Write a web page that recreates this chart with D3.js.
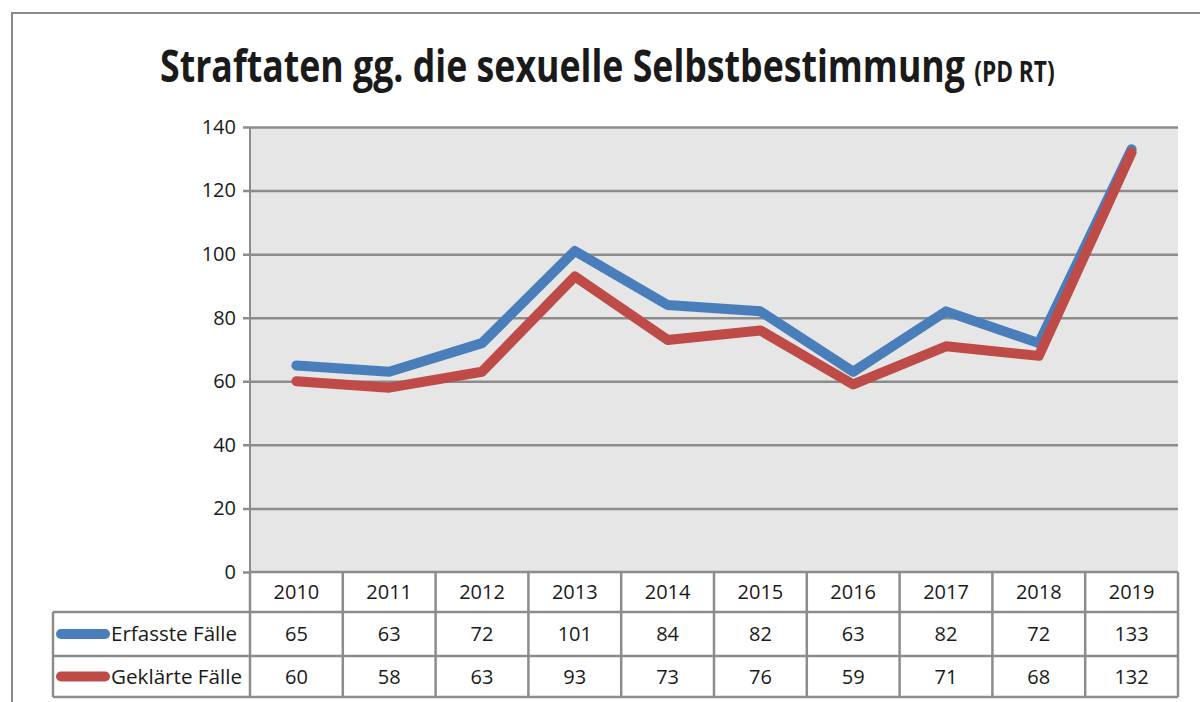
<!DOCTYPE html>
<html>
<head>
<meta charset="utf-8">
<script src="https://cdn.jsdelivr.net/npm/d3@7"></script>
<style>
  body { margin: 0; background: #fff; }
  svg text { font-family: "Open Sans", "Noto Sans", sans-serif; fill: #1a1a1a; }
</style>
</head>
<body>
<div class="chart"></div>
<script>
var years = ["2010", "2011", "2012", "2013", "2014", "2015", "2016", "2017", "2018", "2019"];
var erfasst = [65, 63, 72, 101, 84, 82, 63, 82, 72, 133];
var geklaert = [60, 58, 63, 93, 73, 76, 59, 71, 68, 132];
var seriesNames = ["Erfasste Fälle", "Geklärte Fälle"];
var seriesColors = ["#4a7ebb", "#be4b48"];
var yTicks = [0, 20, 40, 60, 80, 100, 120, 140];

var svgWidth = 1200;
var svgHeight = 702;

var plot = { left: 250, right: 1178, top: 127, bottom: 572 };
var rowH = [40, 44, 41];
var legendLeft = 53;
var gridColor = "#8c8c8c";

var svg = d3.select(".chart")
  .append("svg")
  .attr("width", svgWidth)
  .attr("height", svgHeight);

// outer chart frame (cropped on right/bottom)
svg.append("path")
  .attr("d", "M12,702 L12,13 L1200,13")
  .attr("fill", "none")
  .attr("stroke", "#8a8a8a")
  .attr("stroke-width", 2);

// title: one text, squeezed horizontally to the reference width
var title = svg.append("text")
  .attr("font-weight", "bold")
  .attr("font-size", 44);
title.append("tspan").text("Straftaten gg. die sexuelle Selbstbestimmung ");
title.append("tspan").attr("font-size", 28).text("(PD RT)");
var tw = title.node().getComputedTextLength();
title.attr("transform", `translate(160,82) scale(${895 / tw},1)`);

// scales
var x = d3.scaleBand()
  .domain(years)
  .range([plot.left, plot.right]);

var y = d3.scaleLinear()
  .domain([0, 140])
  .range([plot.bottom, plot.top]);

// plot background
svg.append("rect")
  .attr("x", plot.left)
  .attr("y", plot.top)
  .attr("width", plot.right - plot.left)
  .attr("height", plot.bottom - plot.top)
  .attr("fill", "#e6e6e6");

// gridlines + y axis
var leftAxis = d3.axisLeft(y)
  .tickValues(yTicks)
  .tickSize(-(plot.right - plot.left))
  .tickPadding(14)
  .tickFormat(d3.format("d"));

var yAxis = svg.append("g")
  .attr("transform", `translate(${plot.left},0)`)
  .call(leftAxis);

yAxis.select(".domain").remove();
yAxis.selectAll(".tick line")
  .attr("x1", -7)
  .attr("stroke", gridColor)
  .attr("stroke-width", 2.5);
yAxis.selectAll(".tick text")
  .attr("font-size", 20)
  .attr("fill", "#1a1a1a")
  .style("font-family", "\"Open Sans\", sans-serif");

// left plot border
svg.append("line")
  .attr("x1", plot.left).attr("x2", plot.left)
  .attr("y1", plot.top).attr("y2", plot.bottom)
  .attr("stroke", gridColor)
  .attr("stroke-width", 2);

// lines
var line = d3.line()
  .x((d, i) => x(years[i]) + x.bandwidth() / 2)
  .y(d => y(d));

[erfasst, geklaert].forEach(function(vals, k) {
  svg.append("path")
    .datum(vals)
    .attr("d", line)
    .attr("fill", "none")
    .attr("stroke", seriesColors[k])
    .attr("stroke-width", 10)
    .attr("stroke-linejoin", "round")
    .attr("stroke-linecap", "round");
});

// data table
var tableTop = plot.bottom;
var rowY = [tableTop, tableTop + rowH[0], tableTop + rowH[0] + rowH[1], tableTop + rowH[0] + rowH[1] + rowH[2]];

var table = svg.append("g");

table.append("rect")
  .attr("x", plot.left).attr("y", rowY[0])
  .attr("width", plot.right - plot.left).attr("height", rowY[3] - rowY[0])
  .attr("fill", "#fff");

// horizontal lines
table.append("line")
  .attr("x1", plot.left).attr("x2", plot.right)
  .attr("y1", rowY[0]).attr("y2", rowY[0])
  .attr("stroke", gridColor).attr("stroke-width", 2.5);
[rowY[1], rowY[2], rowY[3]].forEach(function(yy) {
  table.append("line")
    .attr("x1", legendLeft).attr("x2", plot.right)
    .attr("y1", yy).attr("y2", yy)
    .attr("stroke", gridColor).attr("stroke-width", 2.5);
});

// vertical lines
var bounds = years.map(d => x(d)).concat([plot.right]);
bounds.forEach(function(bx) {
  table.append("line")
    .attr("x1", bx).attr("x2", bx)
    .attr("y1", rowY[0]).attr("y2", rowY[3])
    .attr("stroke", gridColor).attr("stroke-width", 2.5);
});
table.append("line")
  .attr("x1", legendLeft).attr("x2", legendLeft)
  .attr("y1", rowY[1]).attr("y2", rowY[3])
  .attr("stroke", gridColor).attr("stroke-width", 2.5);

// year labels
table.selectAll(".year")
  .data(years)
  .enter()
  .append("text")
  .attr("class", "year")
  .attr("x", d => x(d) + x.bandwidth() / 2)
  .attr("y", (rowY[0] + rowY[1]) / 2)
  .attr("dy", "0.35em")
  .attr("text-anchor", "middle")
  .attr("font-size", 20)
  .text(d => d);

// value rows with legend keys
[erfasst, geklaert].forEach(function(vals, k) {
  var cy = (rowY[k + 1] + rowY[k + 2]) / 2;
  table.selectAll(".val" + k)
    .data(vals)
    .enter()
    .append("text")
    .attr("class", "val" + k)
    .attr("x", (d, i) => x(years[i]) + x.bandwidth() / 2)
    .attr("y", cy)
    .attr("dy", "0.35em")
    .attr("text-anchor", "middle")
    .attr("font-size", 20)
    .text(d => d);

  table.append("line")
    .attr("x1", 61).attr("x2", 105)
    .attr("y1", cy).attr("y2", cy)
    .attr("stroke", seriesColors[k])
    .attr("stroke-width", 10)
    .attr("stroke-linecap", "round");

  table.append("text")
    .attr("x", 111)
    .attr("y", cy)
    .attr("dy", "0.35em")
    .attr("font-size", 20)
    .attr("textLength", k === 0 ? 126 : 131)
    .attr("lengthAdjust", "spacingAndGlyphs")
    .text(seriesNames[k]);
});
</script>
</body>
</html>
